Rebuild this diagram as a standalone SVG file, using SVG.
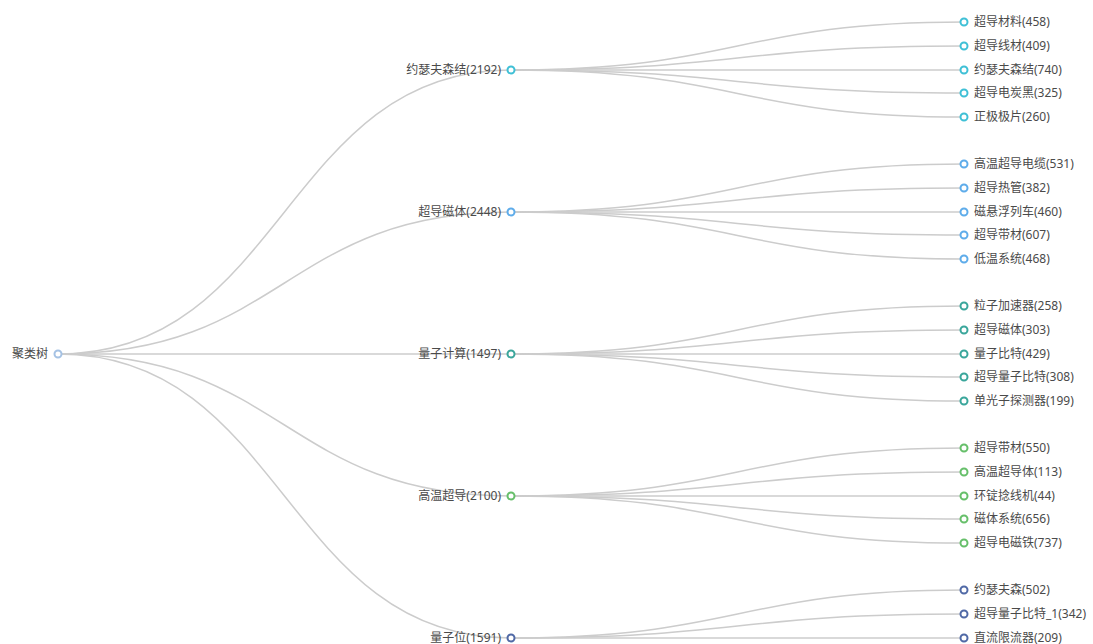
<svg xmlns="http://www.w3.org/2000/svg" width="1093" height="644" viewBox="0 0 1093 644">
<style>
.e{fill:none;stroke:#cccccc;stroke-width:1.5}
.n{fill:#ffffff;stroke-width:2}
text{font-family:"Noto Sans","Noto Sans CJK SC",sans-serif;font-size:12px;fill:#4a4a4a;dominant-baseline:central}
.l{text-anchor:end}
.c0{stroke:#a5c2e4}.c1{stroke:#3fc0d6}.c2{stroke:#5eacea}.c3{stroke:#3aa69b}.c4{stroke:#66bf6a}.c5{stroke:#5069a6}
</style>
<rect width="1093" height="644" fill="#ffffff"/>
<g id="connectors">
<path class="e" d="M58,354 C284.5,354 284.5,70 511,70"/>
<path class="e" d="M58,354 C284.5,354 284.5,212 511,212"/>
<path class="e" d="M58,354 C284.5,354 284.5,354 511,354"/>
<path class="e" d="M58,354 C284.5,354 284.5,496 511,496"/>
<path class="e" d="M58,354 C284.5,354 284.5,638 511,638"/>
<path class="e" d="M511,70 C737.5,70 737.5,22 964,22"/>
<path class="e" d="M511,70 C737.5,70 737.5,46 964,46"/>
<path class="e" d="M511,70 C737.5,70 737.5,70 964,70"/>
<path class="e" d="M511,70 C737.5,70 737.5,93 964,93"/>
<path class="e" d="M511,70 C737.5,70 737.5,117 964,117"/>
<path class="e" d="M511,212 C737.5,212 737.5,164 964,164"/>
<path class="e" d="M511,212 C737.5,212 737.5,188 964,188"/>
<path class="e" d="M511,212 C737.5,212 737.5,212 964,212"/>
<path class="e" d="M511,212 C737.5,212 737.5,235 964,235"/>
<path class="e" d="M511,212 C737.5,212 737.5,259 964,259"/>
<path class="e" d="M511,354 C737.5,354 737.5,306 964,306"/>
<path class="e" d="M511,354 C737.5,354 737.5,330 964,330"/>
<path class="e" d="M511,354 C737.5,354 737.5,354 964,354"/>
<path class="e" d="M511,354 C737.5,354 737.5,377 964,377"/>
<path class="e" d="M511,354 C737.5,354 737.5,401 964,401"/>
<path class="e" d="M511,496 C737.5,496 737.5,448 964,448"/>
<path class="e" d="M511,496 C737.5,496 737.5,472 964,472"/>
<path class="e" d="M511,496 C737.5,496 737.5,496 964,496"/>
<path class="e" d="M511,496 C737.5,496 737.5,519 964,519"/>
<path class="e" d="M511,496 C737.5,496 737.5,543 964,543"/>
<path class="e" d="M511,638 C737.5,638 737.5,590 964,590"/>
<path class="e" d="M511,638 C737.5,638 737.5,614 964,614"/>
<path class="e" d="M511,638 C737.5,638 737.5,638 964,638"/>
</g>
<g id="root"><circle class="n c0" cx="58" cy="354" r="3.5"/><text class="l" x="48" y="353">聚类树</text></g>
<g id="g1"><circle class="n c1" cx="511" cy="70" r="3.5"/><text class="l" x="501" y="69">约瑟夫森结(2192)</text></g>
<g id="g2"><circle class="n c2" cx="511" cy="212" r="3.5"/><text class="l" x="501" y="211">超导磁体(2448)</text></g>
<g id="g3"><circle class="n c3" cx="511" cy="354" r="3.5"/><text class="l" x="501" y="353">量子计算(1497)</text></g>
<g id="g4"><circle class="n c4" cx="511" cy="496" r="3.5"/><text class="l" x="501" y="495">高温超导(2100)</text></g>
<g id="g5"><circle class="n c5" cx="511" cy="638" r="3.5"/><text class="l" x="501" y="637">量子位(1591)</text></g>
<g id="l1a"><circle class="n c1" cx="964" cy="22" r="3.5"/><text x="974" y="21">超导材料(458)</text></g>
<g id="l1b"><circle class="n c1" cx="964" cy="46" r="3.5"/><text x="974" y="45">超导线材(409)</text></g>
<g id="l1c"><circle class="n c1" cx="964" cy="70" r="3.5"/><text x="974" y="69">约瑟夫森结(740)</text></g>
<g id="l1d"><circle class="n c1" cx="964" cy="93" r="3.5"/><text x="974" y="92">超导电炭黑(325)</text></g>
<g id="l1e"><circle class="n c1" cx="964" cy="117" r="3.5"/><text x="974" y="116">正极极片(260)</text></g>
<g id="l2a"><circle class="n c2" cx="964" cy="164" r="3.5"/><text x="974" y="163">高温超导电缆(531)</text></g>
<g id="l2b"><circle class="n c2" cx="964" cy="188" r="3.5"/><text x="974" y="187">超导热管(382)</text></g>
<g id="l2c"><circle class="n c2" cx="964" cy="212" r="3.5"/><text x="974" y="211">磁悬浮列车(460)</text></g>
<g id="l2d"><circle class="n c2" cx="964" cy="235" r="3.5"/><text x="974" y="234">超导带材(607)</text></g>
<g id="l2e"><circle class="n c2" cx="964" cy="259" r="3.5"/><text x="974" y="258">低温系统(468)</text></g>
<g id="l3a"><circle class="n c3" cx="964" cy="306" r="3.5"/><text x="974" y="305">粒子加速器(258)</text></g>
<g id="l3b"><circle class="n c3" cx="964" cy="330" r="3.5"/><text x="974" y="329">超导磁体(303)</text></g>
<g id="l3c"><circle class="n c3" cx="964" cy="354" r="3.5"/><text x="974" y="353">量子比特(429)</text></g>
<g id="l3d"><circle class="n c3" cx="964" cy="377" r="3.5"/><text x="974" y="376">超导量子比特(308)</text></g>
<g id="l3e"><circle class="n c3" cx="964" cy="401" r="3.5"/><text x="974" y="400">单光子探测器(199)</text></g>
<g id="l4a"><circle class="n c4" cx="964" cy="448" r="3.5"/><text x="974" y="447">超导带材(550)</text></g>
<g id="l4b"><circle class="n c4" cx="964" cy="472" r="3.5"/><text x="974" y="471">高温超导体(113)</text></g>
<g id="l4c"><circle class="n c4" cx="964" cy="496" r="3.5"/><text x="974" y="495">环锭捻线机(44)</text></g>
<g id="l4d"><circle class="n c4" cx="964" cy="519" r="3.5"/><text x="974" y="518">磁体系统(656)</text></g>
<g id="l4e"><circle class="n c4" cx="964" cy="543" r="3.5"/><text x="974" y="542">超导电磁铁(737)</text></g>
<g id="l5a"><circle class="n c5" cx="964" cy="590" r="3.5"/><text x="974" y="589">约瑟夫森(502)</text></g>
<g id="l5b"><circle class="n c5" cx="964" cy="614" r="3.5"/><text x="974" y="613">超导量子比特_1(342)</text></g>
<g id="l5c"><circle class="n c5" cx="964" cy="638" r="3.5"/><text x="974" y="637">直流限流器(209)</text></g>
</svg>
